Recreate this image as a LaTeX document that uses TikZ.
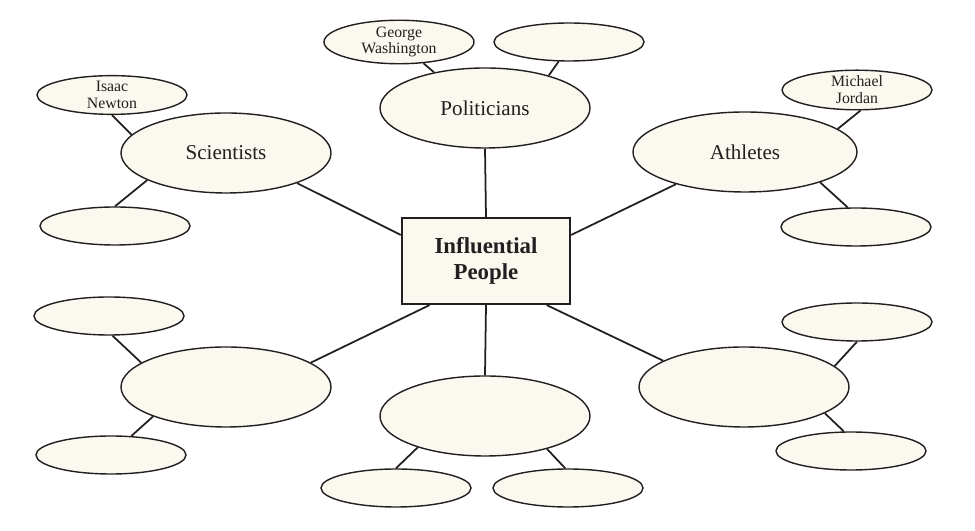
\documentclass[tikz,border=0pt]{standalone}
\usepackage{fontspec}
\setmainfont{Liberation Serif}
\usepackage{xcolor}
\usepackage{tikz}
\usetikzlibrary{shapes.geometric}
\definecolor{ipInk}{RGB}{35,31,32}
\definecolor{ipCream}{RGB}{251,248,239}

\begin{document}
\begin{tikzpicture}[
    x=0.2mm, y=-0.2mm,
    every node/.style={text=ipInk},
    hub/.style={draw=ipInk, fill=ipCream, line width=1.3pt, align=center,
                minimum width=33.6mm, minimum height=17.2mm,
                font=\bfseries\fontsize{13}{15}\selectfont},
    topic/.style={ellipse, draw=ipInk, fill=ipCream, line width=0.8pt,
                  minimum width=42mm, minimum height=16mm, inner sep=0pt,
                  font=\fontsize{12}{14}\selectfont},
    leaf/.style={ellipse, draw=ipInk, fill=ipCream, line width=0.8pt,
                 minimum width=30mm, minimum height=7.6mm, inner sep=0pt,
                 align=center, font=\fontsize{9}{9.6}\selectfont},
    link/.style={draw=ipInk, line width=1pt}
]
\useasboundingbox (0,0) rectangle (975,531);

\node[hub] (root) at (486,261) {Influential\\People};

% the six groups
\node[topic] (pol) at (485,108) {Politicians};
\node[topic] (sci) at (226,153) {Scientists};
\node[topic, minimum width=44.8mm] (ath) at (745,152) {Athletes};
\node[topic] (grpL) at (226,387) {};
\node[topic] (grpB) at (485,416) {};
\node[topic] (grpR) at (744,387) {};

% examples
\node[leaf] (polA) at (399,42) {George\\Washington};
\node[leaf] (polB) at (569,42) {};
\node[leaf] (sciA) at (112,95) {Isaac\\Newton};
\node[leaf] (sciB) at (115,226) {};
\node[leaf] (athA) at (857,90) {Michael\\Jordan};
\node[leaf] (athB) at (856,227) {};
\node[leaf] (lA) at (109,316) {};
\node[leaf] (lB) at (111,455) {};
\node[leaf] (bA) at (396,488) {};
\node[leaf] (bB) at (568,488) {};
\node[leaf] (rA) at (857,322) {};
\node[leaf] (rB) at (851,451) {};

\draw[link] (pol.south) -- (root.north);
\draw[link] (sci.337) -- (root.163);
\draw[link] (ath.205) -- (root.17);
\draw[link] (grpL.16) -- (root.218);
\draw[link] (root.south) -- (grpB.north);
\draw[link] (grpR.162) -- (root.324);

\draw[link] (polA.319) -- (pol.145);
\draw[link] (polB.242) -- (pol.27);
\draw[link] (sciA.south) -- (sci.169);
\draw[link] (sci.199) -- (sciB.north);
\draw[link] (athA.280) -- (ath.14);
\draw[link] (ath.338) -- (athB.113);
\draw[link] (lA.280) -- (grpL.164);
\draw[link] (grpL.202) -- (lB.43);
\draw[link] (grpB.205) -- (bA.north);
\draw[link] (grpB.332) -- (bB.98);
\draw[link] (rA.south) -- (grpR.13);
\draw[link] (grpR.342) -- (rB.110);
\end{tikzpicture}
\end{document}
